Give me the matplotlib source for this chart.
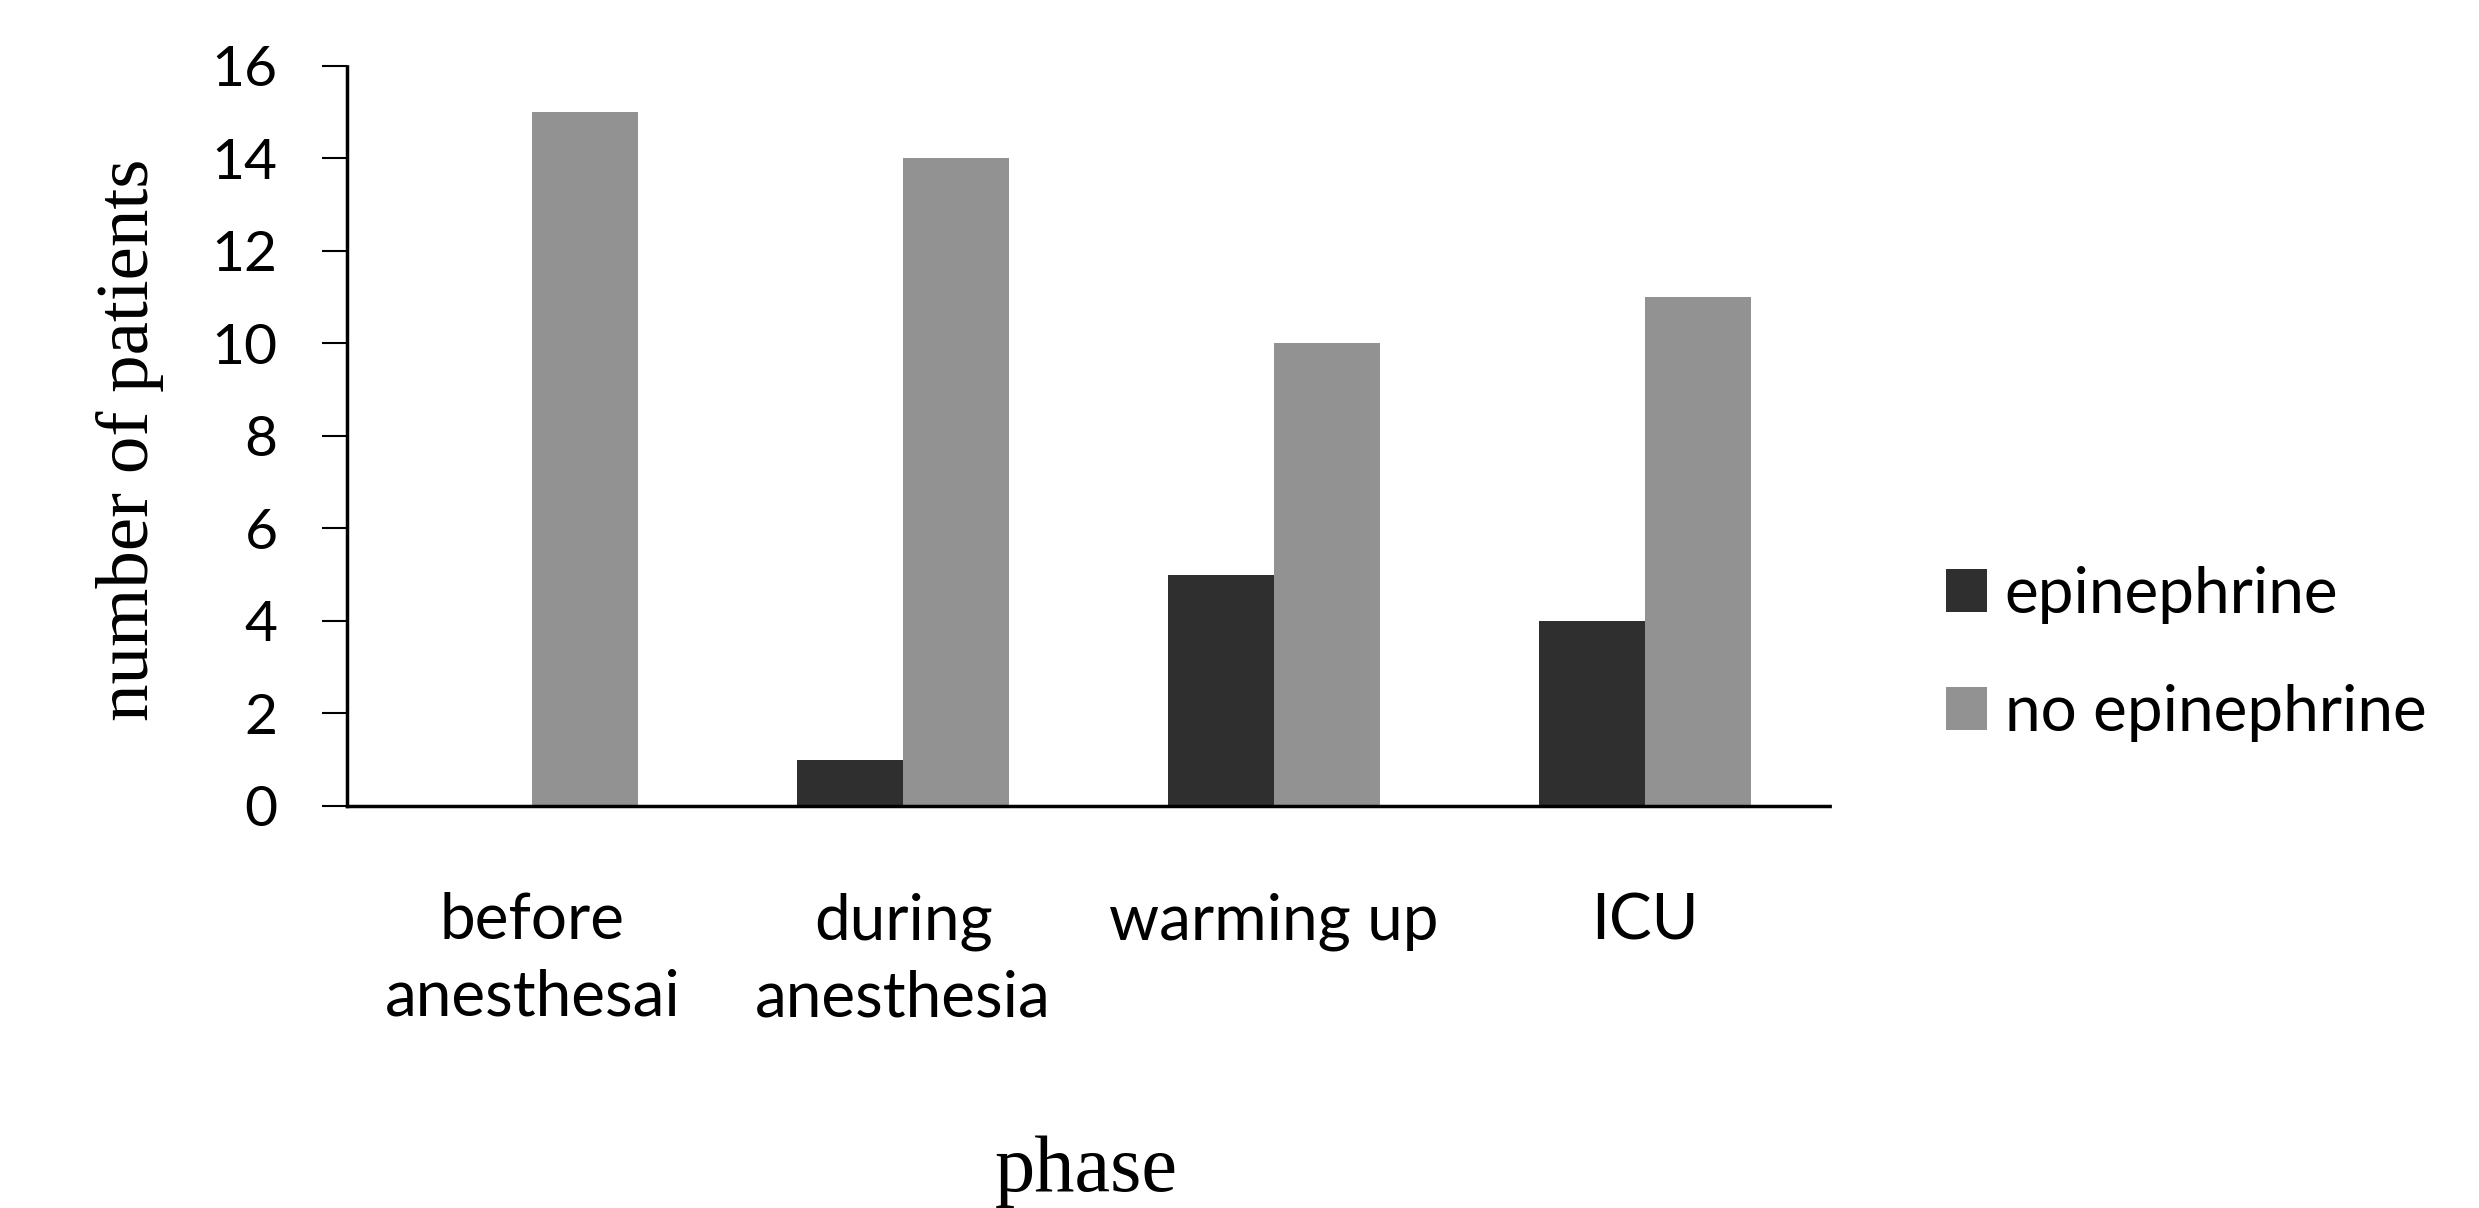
import matplotlib.pyplot as plt
import numpy as np

# data
phases = ["before\nanesthesai", "during\nanesthesia", "warming up", "ICU"]
epinephrine = [0, 1, 5, 4]
no_epinephrine = [15, 14, 10, 11]
y_ticks = [0, 2, 4, 6, 8, 10, 12, 14, 16]

sans = ["Lato", "DejaVu Sans"]
serif = ["Liberation Serif", "DejaVu Serif"]

fig = plt.figure(figsize=(24.79, 12.08), dpi=100)
ax = fig.add_axes([0.140, 0.3328, 0.7382 - 0.140, 0.9454 - 0.3328])

x = np.arange(len(phases))
w = 1 / 3.5  # excel gap width 150%
ax.bar(x - w / 2, epinephrine, w, color="#2f2f2f", label="epinephrine")
ax.bar(x + w / 2, no_epinephrine, w, color="#929292", label="no epinephrine")

ax.set_xlim(-0.5, 3.5)
ax.set_ylim(0, 16)
ax.set_yticks(y_ticks)
ax.set_xticks(x)
ax.set_xticklabels(phases, family=sans, fontsize=46, linespacing=1.4)
ax.set_yticklabels([str(v) for v in y_ticks], family=sans, fontsize=41)

for side in ["top", "right"]:
    ax.spines[side].set_visible(False)
for side in ["left", "bottom"]:
    ax.spines[side].set_linestyle((0, (1, 1)))
    ax.spines[side].set_linewidth(2.5)

ax.tick_params(axis="y", length=18, width=1.5, pad=32, direction="out")
ax.tick_params(axis="x", length=0, pad=62)

fig.text(0.0524, 0.636, "number of patients", rotation=90, family=serif,
         fontsize=54, ha="center", va="center")
fig.text(0.438, 0.014, "phase", family=serif, fontsize=58, ha="center", va="baseline")

fig.legend(loc="center left", bbox_to_anchor=(0.785, 0.4586), frameon=False,
           prop={"family": sans, "size": 46}, handlelength=0.64, handleheight=0.66,
           handletextpad=0.28, labelspacing=0.95, borderpad=0, borderaxespad=0)

fig.savefig("out.png", dpi=100, facecolor="white")
